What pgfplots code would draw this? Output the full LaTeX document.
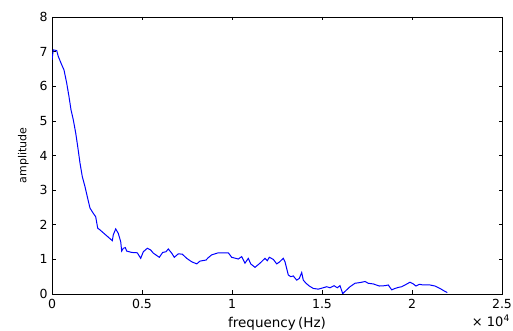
\documentclass[border=0pt]{standalone}
\usepackage{fontspec}
\setmainfont{DejaVu Sans}
\usepackage{pgfplots}
\pgfplotsset{compat=1.18}
\begin{document}
\begin{tikzpicture}
\begin{axis}[
  scale only axis,
  width=450pt, height=277pt,
  xmin=0, xmax=25000, ymin=0, ymax=8,
  xtick={0,5000,10000,15000,20000,25000},
  xticklabels={0,0.5,1,1.5,2,2.5},
  scaled x ticks=false,
  ytick={0,1,2,3,4,5,6,7,8},
  yticklabels={0,1,2,3,4,5,6,7,8},
  tick align=inside,
  major tick length=3.5pt,
  axis line style={black, line width=0.8pt},
  every tick/.style={black, line width=0.6pt},
  tick label style={font=\fontsize{12.5}{14}\selectfont},
  xticklabel style={yshift=-2pt},
  yticklabel style={xshift=-1pt},
  xlabel={frequency\,(Hz)},
  ylabel={amplitude},
  xlabel style={font=\fontsize{13.5}{15}\selectfont, yshift=-1pt},
  ylabel style={font=\fontsize{11}{13}\selectfont, yshift=4pt},
]
\coordinate (bl) at (rel axis cs:0,0);
\coordinate (tr) at (rel axis cs:1,1);
\coordinate (br) at (rel axis cs:1,0);
\addplot[blue, line width=1pt] coordinates {
(0,6.76) (72,7.05) (261,7.03) (350,6.86) (539,6.62) (667,6.47) (817,6.09)
(944,5.70) (1056,5.32) (1183,5.03) (1317,4.65) (1428,4.26) (1556,3.78)
(1683,3.39) (1833,3.10) (1961,2.81) (2111,2.48) (2294,2.33) (2428,2.23)
(2539,1.90) (2667,1.85) (3350,1.54) (3406,1.71) (3539,1.88) (3683,1.75)
(3817,1.51) (3872,1.24) (3961,1.32) (4072,1.34) (4150,1.24) (4428,1.20)
(4739,1.19) (4928,1.03) (5072,1.22) (5294,1.32) (5483,1.27) (5628,1.18)
(5961,1.06) (6150,1.20) (6333,1.22) (6461,1.30) (6650,1.18) (6794,1.06)
(7017,1.16) (7239,1.15) (7483,1.03) (7761,0.93) (8039,0.87) (8222,0.95)
(8556,0.98) (8683,1.05) (8872,1.13) (9239,1.19) (9794,1.19) (9983,1.06)
(10350,1.01) (10539,1.08) (10722,0.89) (10906,1.03) (11039,0.87) (11278,0.77)
(11556,0.89) (11833,1.03) (11961,0.96) (12072,1.06) (12294,1.00) (12483,0.87)
(12628,0.92) (12850,1.03) (12944,0.93) (13128,0.55) (13261,0.50) (13406,0.52)
(13594,0.40) (13739,0.45) (13872,0.62) (13961,0.40) (14111,0.31) (14294,0.23)
(14517,0.16) (14794,0.14) (15072,0.18) (15261,0.21) (15444,0.18) (15667,0.24)
(15850,0.18) (16000,0.24) (16150,0.01) (16372,0.12) (16556,0.21) (16833,0.31)
(17111,0.33) (17389,0.36) (17572,0.31) (17850,0.29) (18183,0.23) (18500,0.24)
(18683,0.26) (18872,0.12) (19056,0.16) (19239,0.19) (19428,0.21) (19611,0.26)
(19889,0.34) (20072,0.29) (20222,0.23) (20406,0.28) (20628,0.26) (21000,0.26)
(21278,0.23) (21556,0.16) (21778,0.09) (21961,0.04)
};
\end{axis}
\node[anchor=north east, inner sep=0pt, font=\fontsize{13}{15}\selectfont]
  at ([shift={(8pt,-21pt)}]br) {× 10\textsuperscript{4}};
\pgfresetboundingbox
\path ([shift={(-52pt,-37pt)}]bl) rectangle ([shift={(11pt,17pt)}]tr);
\end{tikzpicture}
\end{document}
